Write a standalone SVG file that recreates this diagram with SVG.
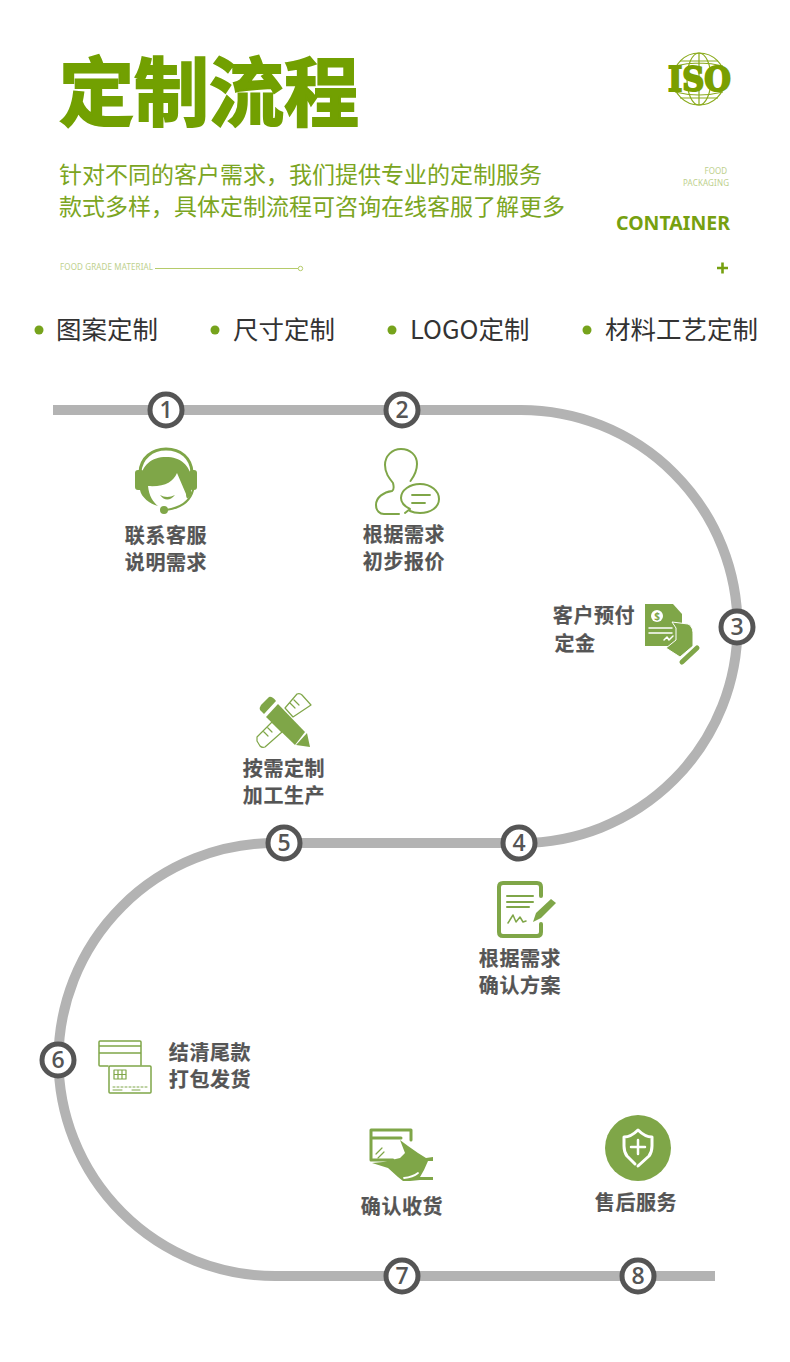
<svg xmlns="http://www.w3.org/2000/svg" width="790" height="1362" viewBox="0 0 790 1362">
<style>
text{font-family:"Noto Sans CJK SC","Noto Sans",sans-serif}
.lb{font-size:20px;font-weight:700;fill:#555;text-anchor:middle;letter-spacing:.6px;stroke:#555;stroke-width:.2px}
.bl{font-size:25.500px;fill:#333}
.sub{font-size:23px;fill:#7ba522}
.num{font-family:"Open Sans","DejaVu Sans",sans-serif;font-size:23px;font-weight:600;fill:#555;text-anchor:middle}
.ring{fill:#fff;stroke:#555;stroke-width:5}
.f{fill:#7fa648}
.s{fill:none;stroke:#7fa648;stroke-linecap:round;stroke-linejoin:round}
.w{fill:none;stroke:#fff;stroke-linecap:round;stroke-linejoin:round}
.gb{fill:none;stroke:#8aab1c;stroke-width:1.200}
.sm{font-family:"Noto Sans",sans-serif;font-size:8px;fill:#bdd08d}
</style>
<rect width="790" height="1362" fill="#fff"/>
<g id="header">
<text x="59" y="120" font-size="75" font-weight="700" fill="#72a001" stroke="#72a001" stroke-width="2">定制流程</text>
<text class="sub" x="59" y="183">针对不同的客户需求，我们提供专业的定制服务</text>
<text class="sub" x="59" y="215">款式多样，具体定制流程可咨询在线客服了解更多</text>
<text class="sm" x="727" y="174" text-anchor="end">FOOD</text>
<text class="sm" x="729" y="186" text-anchor="end" textLength="46">PACKAGING</text>
<text x="616" y="230" font-size="20" font-weight="700" fill="#76a010" textLength="114" lengthAdjust="spacingAndGlyphs" style="font-family:'Noto Sans',sans-serif">CONTAINER</text>
<path d="M717 268H728M722.500 262.500V273.500" stroke="#76a010" stroke-width="2.600" fill="none"/>
<text class="sm" x="60" y="270" textLength="93">FOOD GRADE MATERIAL</text>
<path d="M155 268.500H298" stroke="#b5cb6a" stroke-width="1"/>
<circle cx="300.500" cy="268.500" r="2.200" fill="#fff" stroke="#b5cb6a"/>
</g>
<g id="iso">
<circle class="gb" cx="699" cy="79" r="26"/>
<ellipse class="gb" cx="699" cy="79" rx="12" ry="26"/>
<path class="gb" d="M699 53V105M680 61H718M675 66Q699 60 723 66M675 92Q699 98 723 92M680 98H718"/>
<text x="699.500" y="91" font-size="33" font-weight="700" fill="#7a9f00" stroke="#7a9f00" stroke-width="2" text-anchor="middle" style="font-family:'DejaVu Serif',serif" textLength="63" lengthAdjust="spacingAndGlyphs">ISO</text>
</g>
<g id="tags">
<circle cx="39" cy="330" r="4.500" fill="#76a31c"/><text class="bl" x="56" y="339">图案定制</text>
<circle cx="215" cy="330" r="4.500" fill="#76a31c"/><text class="bl" x="233" y="339">尺寸定制</text>
<circle cx="392" cy="330" r="4.500" fill="#76a31c"/><text class="bl" x="410" y="339">LOGO定制</text>
<circle cx="587" cy="330" r="4.500" fill="#76a31c"/><text class="bl" x="605" y="339">材料工艺定制</text>
</g>
<g id="connectors">
<path d="M53 410H521A216.500 216.500 0 0 1 521 843H275A216.500 216.500 0 0 0 275 1276H715" fill="none" stroke="#b3b3b3" stroke-width="10"/>
</g>
<g id="node1">
<circle class="ring" cx="166" cy="410" r="16"/><text class="num" x="166" y="418">1</text>
<path class="s" stroke-width="3" d="M140 472C141 458 152 449 166 449C181 449 191 458 192 472"/>
<path class="f" d="M141 480C141 465 152 457 166 457C180 457 191 465 191 480L191 494C189 499 186 500 186 494L177 473C173 482 165 487 148 486C149 496 153 502 158 506C150 504 141 497 140 490Z"/>
<rect class="f" x="135" y="470" width="9" height="20" rx="3"/><rect class="f" x="189" y="470" width="8" height="20" rx="3"/>
<path class="f" d="M160 495Q167 499 175 495Q167 504 160 495Z"/>
<path class="s" stroke-width="2.200" d="M193 490C190 502 180 508 166 510"/>
<circle class="f" cx="164" cy="510" r="4"/>
<text class="lb" x="166" y="543">联系客服</text><text class="lb" x="166" y="570">说明需求</text>
</g>
<g id="node2">
<circle class="ring" cx="402" cy="410" r="16"/><text class="num" x="402" y="418">2</text>
<path class="s" stroke-width="2" d="M410.500 481C415 475 417 469 417 464C417 455 410 449 401 449C392 449 385 456 385 465C385 473 389 478 393 483C394 487 394 490 392 491C384 492 376 497 376 505C376 511 380 514 384 514H399"/>
<path class="s" stroke-width="2" d="M405 513L410 509C402 505 401 500 401 498C401 490 410 484 420 484C431 484 439 491 439 499C439 507 431 513 420 513C416 513 412 512 410 511"/>
<path class="s" stroke-width="1.800" d="M412 495H430M412 503H425"/>
<text class="lb" x="404" y="542">根据需求</text><text class="lb" x="404" y="569">初步报价</text>
</g>
<g id="node3">
<circle class="ring" cx="737" cy="627" r="16"/><text class="num" x="737" y="635">3</text>
<path class="f" d="M645 604H673L682 614V646H645Z"/>
<circle cx="657" cy="616" r="6" fill="#fff"/>
<text x="657" y="619.500" font-size="10" font-weight="700" fill="#7fa648" text-anchor="middle" style="font-family:'Noto Sans',sans-serif">$</text>
<path class="w" stroke-width="1.500" d="M649 628H672M649 633H672M664 640L667 637L669 640L673 636"/>
<path class="f" d="M672 622L688 624C692 626 693 630 693 634V646L680 657L666 648L676 640V628Z" stroke="#fff" stroke-width="1"/>
<path class="s" stroke-width="5" d="M682 662L697 648"/>
<text class="lb" x="594" y="623">客户预付</text><text class="lb" x="575" y="651">定金</text>
</g>
<g id="node4">
<circle class="ring" cx="519" cy="843" r="16"/><text class="num" x="519" y="851">4</text>
<path class="s" stroke-width="4" d="M541 896V887Q541 883 537 883H503Q499 883 499 887V932Q499 936 503 936H537Q541 936 541 932V924"/>
<path class="s" stroke-width="2" d="M507 896H533M507 902H533M507 907H529"/>
<path class="s" stroke-width="1.500" d="M508 923L513 915L516 922L520 917L523 922L526 921"/>
<path class="f" d="M551 899L556 903L541 918L533 922L536 913Z"/>
<text class="lb" x="520" y="966">根据需求</text><text class="lb" x="520" y="993">确认方案</text>
</g>
<g id="node5">
<circle class="ring" cx="284" cy="843" r="16"/><text class="num" x="284" y="851">5</text>
<path class="s" stroke-width="1.200" d="M297 694Q300 693 302 695L311 705L293 717L285 708ZM290 703L295 708M294 700L299 705"/>
<path class="s" stroke-width="1.200" d="M257 737L272 722L282 732L265 747Q262 748 260 746L257 741ZM263 731L268 736M267 727L272 732"/>
<path class="f" d="M269 697Q272 696 276 701L264 714L260 710Q259 708 261 705Z"/>
<path class="f" d="M278 704L305 732L295 745L266 717Z"/>
<path class="f" d="M307 733L310 747L296 745Z"/>
<text class="lb" x="284" y="776">按需定制</text><text class="lb" x="284" y="803">加工生产</text>
</g>
<g id="node6">
<circle class="ring" cx="58" cy="1060" r="16"/><text class="num" x="58" y="1068">6</text>
<path class="s" stroke-width="1.500" d="M108 1066H100Q99 1066 99 1065V1042Q99 1041 100 1041H140Q141 1041 141 1042V1065M99 1046H141M99 1053H141"/>
<rect class="s" stroke-width="1.500" x="109" y="1066" width="42" height="27" rx="1"/>
<path class="s" stroke-width="1.200" d="M114 1070H126V1079H114ZM118 1070V1079M122 1070V1079M114 1074.500H126"/>
<path class="s" stroke-width="1" stroke-dasharray="2 2" d="M113 1087H148"/>
<path class="s" stroke-width="1" d="M113 1090H122M132 1090H140"/>
<text class="lb" x="210" y="1060">结清尾款</text><text class="lb" x="210" y="1087">打包发货</text>
</g>
<g id="node7">
<circle class="ring" cx="402" cy="1276" r="16"/><text class="num" x="402" y="1284">7</text>
<path class="s" stroke-width="3" d="M401 1138H371V1130H411V1140M371 1138V1160H393"/>
<path class="s" stroke-width="1.200" d="M376 1154L382 1148M378 1158L384 1152"/>
<path class="f" d="M400 1140L408 1146L418 1153L426 1158L433 1157V1161L428 1161L424 1170L420 1177H433V1180H420L410 1181L403 1181L398 1177L388 1168L372 1163L383 1162L400 1158L405 1153Z"/>
<path class="w" stroke-width="1.800" d="M404 1178Q413 1177 418 1173"/>
<text class="lb" x="402" y="1214">确认收货</text>
</g>
<g id="node8">
<circle class="ring" cx="638" cy="1276" r="16"/><text class="num" x="638" y="1284">8</text>
<circle class="f" cx="638" cy="1148" r="33"/>
<path class="w" stroke-width="3" d="M635 1164L627 1156Q624 1152 624 1146V1137Q631 1137 638 1130Q645 1137 652 1137V1146Q652 1152 649 1156L638 1166"/>
<path class="w" stroke-width="2.500" d="M638 1140V1154M631 1147H645"/>
<text class="lb" x="636" y="1210">售后服务</text>
</g>
</svg>
